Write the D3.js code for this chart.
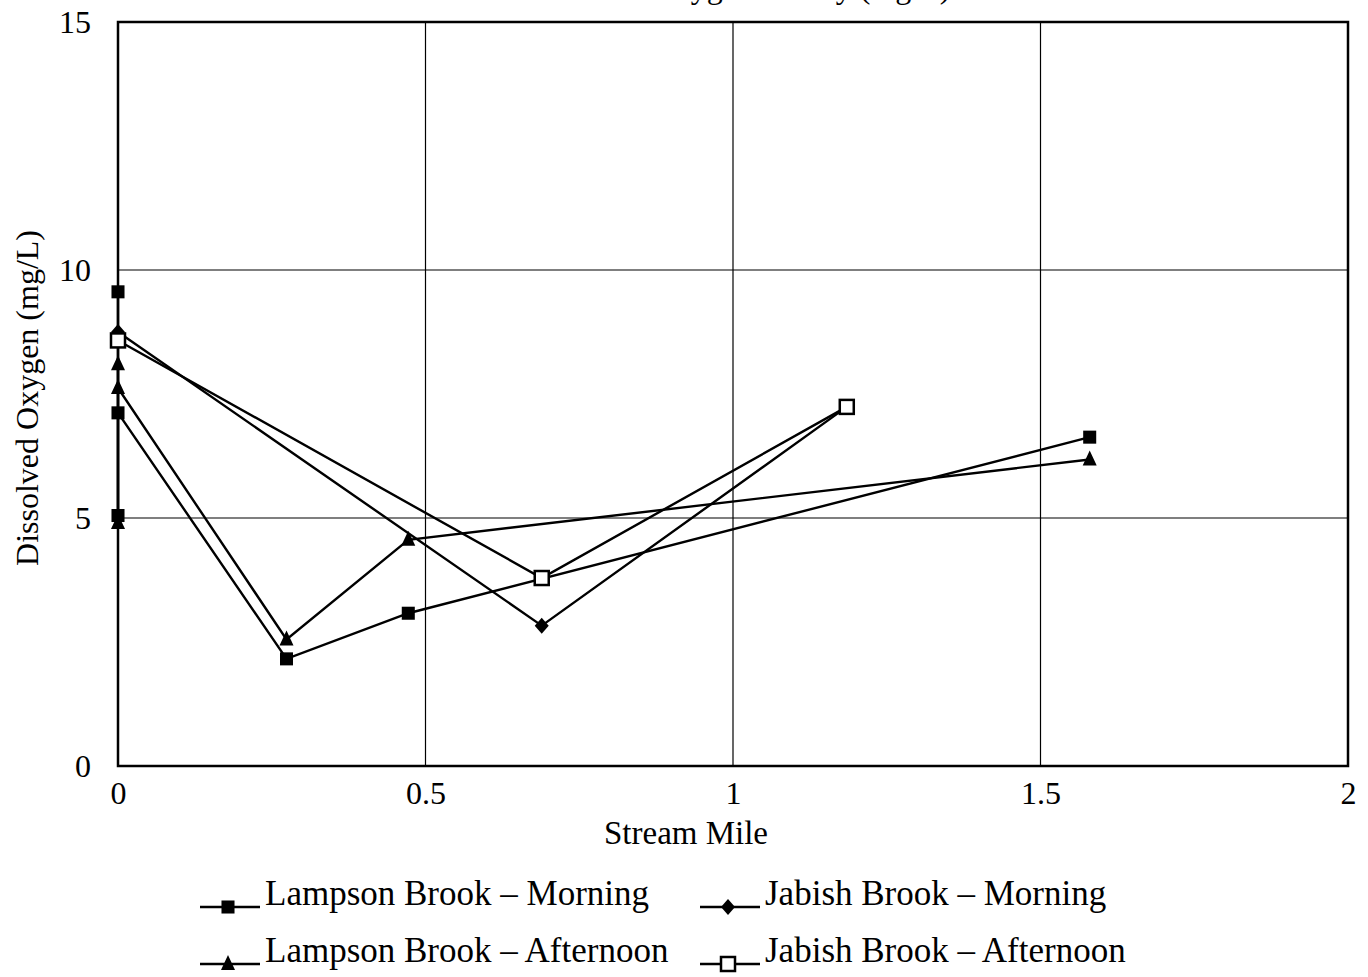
<!DOCTYPE html>
<html>
<head>
<meta charset="utf-8">
<script src="https://cdn.jsdelivr.net/npm/d3@7"></script>
<style>
  body { margin: 0; background: #fff; }
  svg { font-family: "Liberation Serif", "DejaVu Serif", serif; }
</style>
</head>
<body>
<div id="chart"></div>
<script>
// values
const seriesNames = ['Lampson Brook \u2013 Morning', 'Jabish Brook \u2013 Morning',
                     'Lampson Brook \u2013 Afternoon', 'Jabish Brook \u2013 Afternoon'];
const lampsonMorningX = [0, 0, 0, 0.274, 0.472, 1.58];
const lampsonMorningY = [9.56, 5.05, 7.12, 2.16, 3.08, 6.63];
const lampsonAfternoonX = [0, 0, 0, 0.274, 0.472, 1.58];
const lampsonAfternoonY = [8.1, 4.9, 7.62, 2.55, 4.56, 6.18];
const jabishMorningX = [0, 0.689, 1.185];
const jabishMorningY = [8.75, 2.83, 7.24];
const jabishAfternoonX = [0, 0.689, 1.185];
const jabishAfternoonY = [8.58, 3.79, 7.24];
const xTicks = [0, 0.5, 1, 1.5, 2];
const yTicks = [0, 5, 10, 15];

const width = 1368, height = 977;
const margin = { left: 118, right: 20, top: 22, bottom: 211 };

const svg = d3.select('#chart').append('svg')
    .attr('width', width)
    .attr('height', height);

const x = d3.scaleLinear().domain([0, 2]).range([margin.left, width - margin.right]);
const y = d3.scaleLinear().domain([0, 15]).range([height - margin.bottom, margin.top]);

// title, mostly cut off by the top of the page as in the source
svg.append('text')
    .attr('x', 733).attr('y', -2)
    .attr('text-anchor', 'middle')
    .attr('font-size', 32)
    .text('Dissolved Oxygen Survey (mg/L)');

// grid
svg.append('g').selectAll('line')
    .data(xTicks)
    .join('line')
    .attr('x1', d => x(d)).attr('x2', d => x(d))
    .attr('y1', y(0)).attr('y2', y(15))
    .attr('stroke', '#000').attr('stroke-width', 1.2);
svg.append('g').selectAll('line')
    .data(yTicks)
    .join('line')
    .attr('x1', x(0)).attr('x2', x(2))
    .attr('y1', d => y(d)).attr('y2', d => y(d))
    .attr('stroke', '#000').attr('stroke-width', 1.2);

// frame
svg.append('rect')
    .attr('x', x(0)).attr('y', y(15))
    .attr('width', x(2) - x(0)).attr('height', y(0) - y(15))
    .attr('fill', 'none').attr('stroke', '#000').attr('stroke-width', 2.5);

// axes (labels only)
const xAxis = svg.append('g')
    .attr('transform', `translate(0,${y(0) + 12})`)
    .call(d3.axisBottom(x).tickValues(xTicks).tickSize(0).tickFormat(d3.format('')));
xAxis.select('.domain').remove();
xAxis.selectAll('text').attr('font-size', 32).attr('font-family', 'Liberation Serif').attr('fill', '#000');

const yAxis = svg.append('g')
    .attr('transform', `translate(${x(0) - 24},0)`)
    .call(d3.axisLeft(y).tickValues(yTicks).tickSize(0));
yAxis.select('.domain').remove();
yAxis.selectAll('text').attr('font-size', 32).attr('font-family', 'Liberation Serif').attr('fill', '#000');

svg.append('text')
    .attr('x', 686).attr('y', 844)
    .attr('text-anchor', 'middle')
    .attr('font-size', 33)
    .text('Stream Mile');

svg.append('text')
    .attr('transform', 'translate(38,398) rotate(-90)')
    .attr('text-anchor', 'middle')
    .attr('font-size', 32)
    .text('Dissolved Oxygen (mg/L)');

// series
const series = [
  { name: seriesNames[0], xs: lampsonMorningX, ys: lampsonMorningY, marker: 'square' },
  { name: seriesNames[1], xs: jabishMorningX, ys: jabishMorningY, marker: 'diamond' },
  { name: seriesNames[2], xs: lampsonAfternoonX, ys: lampsonAfternoonY, marker: 'triangle' },
  { name: seriesNames[3], xs: jabishAfternoonX, ys: jabishAfternoonY, marker: 'open' }
];

const line = d3.line().x(d => x(d[0])).y(d => y(d[1]));

function marker(g, type) {
  if (type === 'square') {
    g.append('path').attr('d', d3.symbol(d3.symbolSquare, 170)()).attr('fill', '#000');
  } else if (type === 'diamond') {
    g.append('path').attr('d', 'M0,-8L7,0L0,8L-7,0Z').attr('fill', '#000');
  } else if (type === 'triangle') {
    g.append('path').attr('d', 'M0,-9L7,6L-7,6Z').attr('fill', '#000');
  } else {
    g.append('rect').attr('x', -7).attr('y', -7).attr('width', 14).attr('height', 14)
        .attr('fill', '#fff').attr('stroke', '#000').attr('stroke-width', 2.5);
  }
}

series.forEach(s => {
  const pts = s.xs.map((v, i) => [v, s.ys[i]]);
  svg.append('path')
      .datum(pts)
      .attr('d', line)
      .attr('fill', 'none')
      .attr('stroke', '#000')
      .attr('stroke-width', 2.4);
  svg.append('g').selectAll('g')
      .data(pts)
      .join('g')
      .attr('transform', d => `translate(${x(d[0])},${y(d[1])})`)
      .each(function () { marker(d3.select(this), s.marker); });
});

// legend
const legendPos = [[200, 895], [700, 895], [200, 952], [700, 952]];
series.forEach((s, i) => {
  const [lx, ly] = legendPos[i];
  const g = svg.append('g').attr('transform', `translate(${lx},${ly})`);
  g.append('line').attr('x1', 0).attr('x2', 60).attr('y1', 12).attr('y2', 12)
      .attr('stroke', '#000').attr('stroke-width', 2.4);
  const m = g.append('g').attr('transform', 'translate(28,12)');
  marker(m, s.marker);
  g.append('text')
      .attr('x', 65).attr('y', 10)
      .attr('font-size', 35)
      .text(s.name);
});
</script>
</body>
</html>
